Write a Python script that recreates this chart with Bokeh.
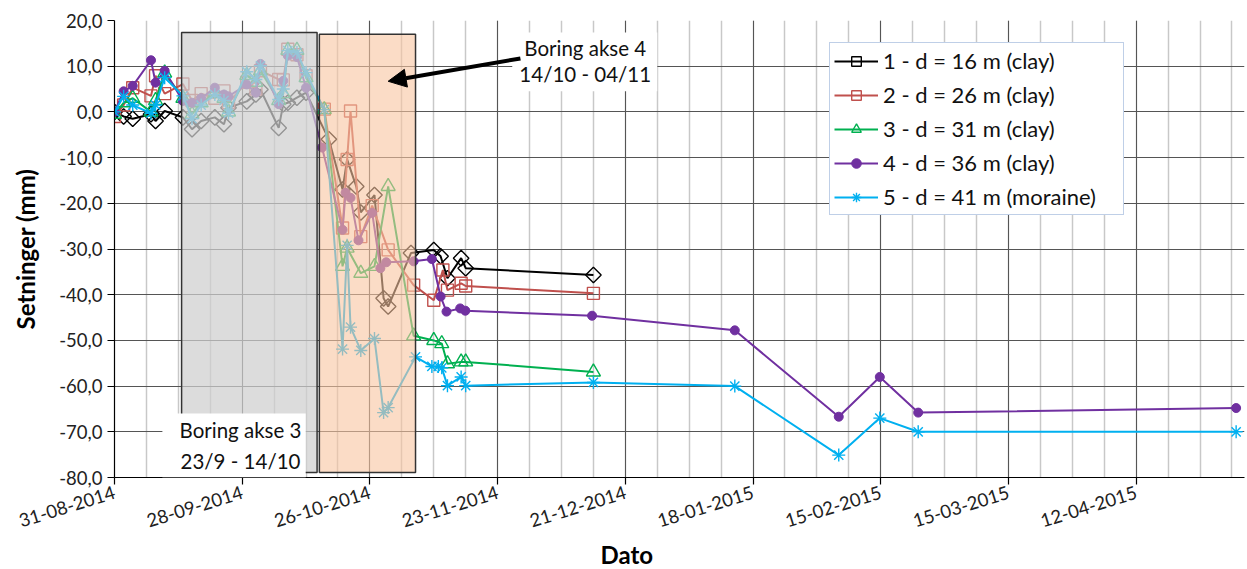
import pandas as pd
from bokeh.plotting import figure
from bokeh.models import (FixedTicker, DatetimeTickFormatter, BoxAnnotation, Label,
                          Arrow, NormalHead, Legend, LegendItem, Range1d, Title)
from bokeh.embed import file_html
from bokeh.resources import INLINE

# ---------------- data ----------------
early_dates = ["2014-08-31", "2014-09-02", "2014-09-04", "2014-09-08", "2014-09-09",
               "2014-09-11", "2014-09-15", "2014-09-17", "2014-09-19", "2014-09-22",
               "2014-09-24", "2014-09-25", "2014-09-29", "2014-10-01", "2014-10-02",
               "2014-10-06", "2014-10-07", "2014-10-08", "2014-10-10", "2014-10-12"]

s1_label = "1 - d = 16 m (clay)"
s1_dates = early_dates + ["2014-10-17", "2014-10-20", "2014-10-21", "2014-10-23", "2014-10-24",
                          "2014-10-27", "2014-10-29", "2014-10-30", "2014-11-04", "2014-11-09",
                          "2014-11-10 12:00", "2014-11-12", "2014-11-15", "2014-11-16", "2014-12-14"]
s1_values = [0.0, -1.0, -1.5, -0.5, -2.0, 0.2, -1.2, -3.8, -2.0, -1.2,
             -2.7, 0.9, 2.3, 3.8, 4.9, -3.5, 1.7, 2.0, 3.1, 4.2,
             -6.0, -17.0, -10.4, -16.3, -22.0, -18.2, -40.8, -42.6, -30.9, -30.2,
             -31.6, -36.4, -32.0, -34.2, -35.7]

s2_label = "2 - d = 26 m (clay)"
s2_dates = early_dates + ["2014-10-16", "2014-10-20", "2014-10-21", "2014-10-21 18:00", "2014-10-24",
                          "2014-10-26 12:00", "2014-10-30", "2014-11-04 14:00", "2014-11-09",
                          "2014-11-11", "2014-11-12", "2014-11-15", "2014-11-16", "2014-12-14"]
s2_values = [-1.0, 1.5, 5.3, 3.5, 7.9, 4.0, 6.1, 2.5, 4.0, 3.0,
             4.6, 2.0, 6.5, 5.0, 9.0, 7.1, 7.0, 13.7, 12.5, 7.9,
             0.6, -25.4, -10.4, 0.2, -27.3, -20.5, -30.2, -37.9, -41.2,
             -34.6, -39.0, -37.5, -38.1, -39.7]

s3_label = "3 - d = 31 m (clay)"
s3_dates = early_dates + ["2014-10-16", "2014-10-20", "2014-10-21", "2014-10-24", "2014-10-27",
                          "2014-10-30", "2014-11-04 14:00", "2014-11-09", "2014-11-10 18:00",
                          "2014-11-12", "2014-11-15", "2014-11-16", "2014-12-14"]
s3_values = [-0.5, 2.0, 3.0, 0.0, 2.5, 8.5, 3.0, -0.5, 2.0, 4.0,
             3.0, 0.0, 8.0, 6.5, 9.0, 2.5, 4.0, 13.5, 13.5, 7.5,
             0.5, -33.8, -29.8, -35.3, -33.8, -16.3, -49.0, -50.0, -50.7,
             -55.1, -54.7, -54.7, -56.9]

s4_label = "4 - d = 36 m (clay)"
s4_dates = early_dates + ["2014-10-15 12:00", "2014-10-20", "2014-10-20 16:00", "2014-10-21 18:00",
                          "2014-10-23 12:00", "2014-10-26 12:00", "2014-10-28 07:00", "2014-10-29 14:00",
                          "2014-11-04 14:00", "2014-11-08 14:00", "2014-11-10 12:00", "2014-11-11 19:00",
                          "2014-11-14 19:00", "2014-11-15 22:00", "2014-12-13 17:00", "2015-01-14",
                          "2015-02-05 19:00", "2015-02-14 19:00", "2015-02-23 05:00", "2015-05-03 22:00"]
s4_values = [0.0, 4.5, 5.7, 11.3, 6.4, 9.0, 2.4, 2.0, 3.0, 5.3,
             3.8, 3.4, 6.0, 4.2, 10.5, 1.7, 6.8, 12.3, 12.0, 5.3,
             -7.8, -25.8, -17.7, -18.8, -28.1, -22.1, -34.2, -32.9,
             -32.7, -32.2, -40.4, -43.7, -43.0, -43.5, -44.6, -47.8,
             -66.7, -58.0, -65.8, -64.8]

s5_label = "5 - d = 41 m (moraine)"
s5_dates = early_dates + ["2014-10-16", "2014-10-20", "2014-10-21", "2014-10-21 18:00", "2014-10-24",
                          "2014-10-27", "2014-10-29", "2014-10-30", "2014-11-05", "2014-11-08 14:00",
                          "2014-11-10", "2014-11-10 18:00", "2014-11-12", "2014-11-15", "2014-11-16",
                          "2014-12-14", "2015-01-14", "2015-02-05 19:00", "2015-02-14 19:00",
                          "2015-02-23 05:00", "2015-05-03 22:00"]
s5_values = [0.0, 3.4, 1.5, -0.3, 1.5, 7.5, 3.5, -1.5, 1.5, 3.8,
             2.5, -0.3, 8.8, 7.1, 10.1, 2.7, 5.0, 13.4, 13.0, 8.6,
             0.5, -51.9, -29.2, -47.1, -52.2, -49.6, -65.8, -64.7, -53.6, -55.7,
             -55.7, -56.0, -59.9, -58.0, -59.9, -59.2, -60.0, -75.1, -67.0, -70.0, -70.0]

x_tick_dates = ["2014-08-31", "2014-09-28", "2014-10-26", "2014-11-23", "2014-12-21",
                "2015-01-18", "2015-02-15", "2015-03-15", "2015-04-12"]
y_ticks = [-80, -70, -60, -50, -40, -30, -20, -10, 0, 10, 20]

# annotation texts and spans
box3_text = ["Boring akse 3", "23/9 - 14/10"]
box4_text = ["Boring akse 4", "14/10 - 04/11"]
box3_span = ["2014-09-14 17:00", "2014-10-14 10:00"]
box4_span = ["2014-10-14 22:00", "2014-11-05 00:00"]
x_title = "Dato"
y_title = "Setninger (mm)"


def ms(s):
    return pd.Timestamp(s).value / 1e6


def to_dt(lst):
    return [pd.Timestamp(s) for s in lst]


FONT = "Lato"

p = figure(width=1246, height=568, output_backend="svg", toolbar_location=None,
           x_axis_type="datetime",
           x_range=Range1d(ms("2014-08-31"), ms("2015-05-05 18:00")),
           y_range=Range1d(-80, 20),
           min_border_left=114, min_border_right=2, min_border_top=20, min_border_bottom=91)
p.outline_line_color = None
p.background_fill_color = "white"

# axes
major = [ms(d) for d in x_tick_dates]
minor = [ms(d) for d in pd.date_range("2014-08-31", "2015-05-05", freq="7D")]
p.xaxis.ticker = FixedTicker(ticks=major, minor_ticks=minor)
fmt = "%d-%m-%Y"
p.xaxis.formatter = DatetimeTickFormatter(milliseconds=fmt, seconds=fmt, minsec=fmt, minutes=fmt,
                                          hourmin=fmt, hours=fmt, days=fmt, months=fmt, years=fmt)
p.xaxis.major_label_orientation = 0.30
p.yaxis.ticker = FixedTicker(ticks=y_ticks)
p.yaxis.major_label_overrides = {v: f"{v},0" for v in y_ticks}

for ax in (p.xaxis[0], p.yaxis[0]):
    ax.axis_line_color = "black"
    ax.axis_line_width = 1.2
    ax.major_tick_line_color = "black"
    ax.major_tick_line_width = 1.2
    ax.major_tick_in = 0
    ax.major_tick_out = 7
    ax.minor_tick_line_color = None
    ax.major_label_text_font = FONT
    ax.major_label_text_color = "#222222"
p.xaxis.major_label_text_font_size = "18.5px"
p.xaxis.major_label_standoff = 7
p.yaxis.major_label_text_font_size = "18.5px"
p.yaxis.axis_label = y_title
p.yaxis.axis_label_text_font = FONT
p.yaxis.axis_label_text_font_size = "24px"
p.yaxis.axis_label_text_font_style = "bold"
p.yaxis.axis_label_text_color = "black"
p.yaxis.axis_label_standoff = 16

# x axis title, left-aligned with an offset so it sits where the original has it
p.add_layout(Title(text=x_title, align="left", offset=486, standoff=0, text_font=FONT,
                   text_font_size="24px", text_font_style="bold", text_color="black"), "below")

# grid
p.xgrid.grid_line_color = "#555555"
p.xgrid.grid_line_width = 1
p.xgrid.minor_grid_line_color = "#C8C8C8"
p.xgrid.minor_grid_line_width = 1.5
p.ygrid.grid_line_color = "#555555"
p.ygrid.grid_line_width = 1

# series
series = [
    (s1_dates, s1_values, s1_label, "#000000", "square", 11, 0.785),
    (s2_dates, s2_values, s2_label, "#C0504D", "square", 12, 0.0),
    (s3_dates, s3_values, s3_label, "#00B050", "triangle", 14, 0.0),
    (s4_dates, s4_values, s4_label, "#7030A0", "circle", 9, 0.0),
    (s5_dates, s5_values, s5_label, "#00B0F0", "asterisk", 13, 0.0),
]
items = []
for dates, vals, label, color, marker, size, angle in series:
    x = to_dt(dates)
    ln = p.line(x, vals, line_color=color, line_width=2)
    if marker == "circle":
        sc = p.scatter(x, vals, marker=marker, size=size, fill_color=color,
                       line_color=color, line_width=1)
    else:
        sc = p.scatter(x, vals, marker=marker, size=size, angle=angle, fill_color=None,
                       line_color=color, line_width=1.4)
    items.append(LegendItem(label=label, renderers=[ln, sc]))

# shaded boring periods
p.add_layout(BoxAnnotation(left=ms(box3_span[0]), right=ms(box3_span[1]), bottom=-78.9, top=17.4,
                           fill_color="#CFCFCF", fill_alpha=0.72,
                           line_color="#333333", line_width=1.5, line_alpha=1))
p.add_layout(BoxAnnotation(left=ms(box4_span[0]), right=ms(box4_span[1]), bottom=-78.9, top=17.0,
                           fill_color="#F8C5A0", fill_alpha=0.6,
                           line_color="#333333", line_width=1.5, line_alpha=1))

# text boxes
p.add_layout(BoxAnnotation(left=ms("2014-09-10 12:00"), right=ms("2014-10-11 22:00"),
                           bottom=-80, top=-66.0, fill_color="white", fill_alpha=1,
                           line_color=None))
p.add_layout(BoxAnnotation(left=ms("2014-11-26 05:00"), right=ms("2014-12-28 00:00"),
                           bottom=4.5, top=17.4, fill_color="white", fill_alpha=1,
                           line_color=None))
for txt, xd, yv in [(box3_text[0], "2014-09-27 15:00", -69.6), (box3_text[1], "2014-09-27 15:00", -76.3),
                    (box4_text[0], "2014-12-12 05:00", 13.9), (box4_text[1], "2014-12-12 05:00", 8.2)]:
    p.add_layout(Label(x=ms(xd), y=yv, text=txt, text_font=FONT, text_font_size="20.5px",
                       text_align="center", text_baseline="middle", text_color="#111111"))

p.add_layout(Arrow(end=NormalHead(size=18, fill_color="black", line_color="black"),
                   x_start=ms("2014-11-28"), y_start=11.7, x_end=ms("2014-10-30"), y_end=6.7,
                   line_color="black", line_width=4))

legend = Legend(items=items, location=(715, 262), background_fill_color="white",
                background_fill_alpha=1, border_line_color="#7F9FCF", border_line_width=1.2,
                label_text_font=FONT, label_text_font_size="22px", label_text_color="#111111",
                glyph_width=44, glyph_height=24, label_height=24, label_width=236,
                spacing=7, padding=4, margin=0, label_standoff=5)
p.add_layout(legend)

open("out.html", "w").write(file_html(p, INLINE))
